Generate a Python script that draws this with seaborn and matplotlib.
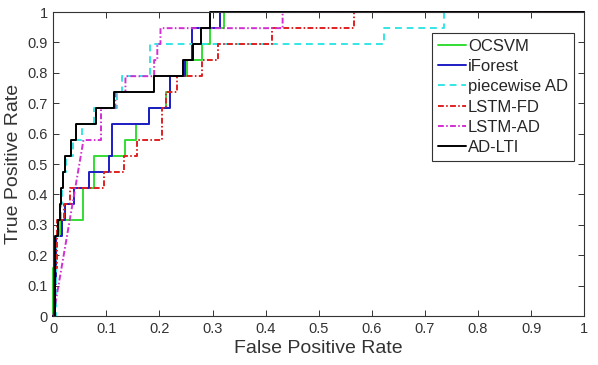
import matplotlib
matplotlib.use("Agg")
import matplotlib.pyplot as plt
import numpy as np
import pandas as pd
import seaborn as sns

# ROC curve vertices (fpr, tpr)
models = ["OCSVM", "iForest", "piecewise AD", "LSTM-FD", "LSTM-AD", "AD-LTI"]

ocsvm_fpr = [0, 0, 0.005, 0.005, 0.012, 0.012, 0.057, 0.057, 0.076, 0.076, 0.136, 0.136,
             0.155, 0.155, 0.18, 0.18, 0.212, 0.212, 0.22, 0.22, 0.252, 0.252, 0.281, 0.281,
             0.296, 0.296, 0.321, 0.321, 1]
ocsvm_tpr = [0, 0.158, 0.158, 0.263, 0.263, 0.316, 0.316, 0.421, 0.421, 0.526, 0.526, 0.579,
             0.579, 0.632, 0.632, 0.684, 0.684, 0.737, 0.737, 0.789, 0.789, 0.842, 0.842, 0.895,
             0.895, 0.947, 0.947, 1, 1]

iforest_fpr = [0, 0.003, 0.003, 0.006, 0.006, 0.017, 0.017, 0.023, 0.023, 0.039, 0.039,
               0.067, 0.067, 0.105, 0.105, 0.11, 0.11, 0.18, 0.18, 0.22, 0.22, 0.249, 0.249,
               0.262, 0.262, 0.315, 0.315, 1]
iforest_tpr = [0, 0, 0.105, 0.105, 0.263, 0.263, 0.316, 0.316, 0.368, 0.368, 0.421,
               0.421, 0.474, 0.474, 0.526, 0.526, 0.632, 0.632, 0.684, 0.684, 0.789, 0.789, 0.842,
               0.842, 0.947, 0.947, 1, 1]

piecewise_fpr = [0, 0.005, 0.005, 0.01, 0.01, 0.014, 0.014, 0.016, 0.016, 0.018, 0.018,
                 0.024, 0.024, 0.038, 0.038, 0.055, 0.055, 0.076, 0.076, 0.12, 0.12, 0.13, 0.13,
                 0.183, 0.183, 0.622, 0.622, 0.735, 0.735, 1]
piecewise_tpr = [0, 0, 0.263, 0.263, 0.316, 0.316, 0.368, 0.368, 0.421, 0.421, 0.474,
                 0.474, 0.526, 0.526, 0.579, 0.579, 0.632, 0.632, 0.684, 0.684, 0.737, 0.737, 0.789,
                 0.789, 0.895, 0.895, 0.947, 0.947, 1, 1]

lstmfd_fpr = [0, 0.004, 0.004, 0.008, 0.008, 0.02, 0.02, 0.031, 0.031, 0.095, 0.095,
              0.133, 0.133, 0.157, 0.157, 0.205, 0.205, 0.212, 0.212, 0.233, 0.233, 0.281, 0.281,
              0.31, 0.31, 0.412, 0.412, 0.566, 0.566, 1]
lstmfd_tpr = [0, 0, 0.158, 0.158, 0.316, 0.316, 0.368, 0.368, 0.421, 0.421, 0.474,
              0.474, 0.526, 0.526, 0.579, 0.579, 0.684, 0.684, 0.737, 0.737, 0.789, 0.789, 0.842,
              0.842, 0.895, 0.895, 0.947, 0.947, 1, 1]

lstmad_fpr = [0, 0.057, 0.09, 0.09, 0.117, 0.117, 0.136, 0.136, 0.19, 0.19, 0.196, 0.196,
              0.202, 0.202, 0.432, 0.432, 1]
lstmad_tpr = [0, 0.579, 0.579, 0.684, 0.684, 0.737, 0.737, 0.789, 0.789, 0.842, 0.842, 0.895,
              0.895, 0.947, 0.947, 1, 1]

adlti_fpr = [0, 0.004, 0.004, 0.009, 0.009, 0.012, 0.012, 0.014, 0.014, 0.019, 0.019,
             0.023, 0.023, 0.033, 0.033, 0.042, 0.042, 0.08, 0.08, 0.114, 0.114, 0.189, 0.189,
             0.245, 0.245, 0.264, 0.264, 0.279, 0.279, 0.296, 0.296, 1]
adlti_tpr = [0, 0, 0.263, 0.263, 0.316, 0.316, 0.368, 0.368, 0.421, 0.421, 0.474,
             0.474, 0.526, 0.526, 0.579, 0.579, 0.632, 0.632, 0.684, 0.684, 0.737, 0.737, 0.789,
             0.789, 0.842, 0.842, 0.895, 0.895, 0.947, 0.947, 1, 1]

curves = {
    "OCSVM": (ocsvm_fpr, ocsvm_tpr),
    "iForest": (iforest_fpr, iforest_tpr),
    "piecewise AD": (piecewise_fpr, piecewise_tpr),
    "LSTM-FD": (lstmfd_fpr, lstmfd_tpr),
    "LSTM-AD": (lstmad_fpr, lstmad_tpr),
    "AD-LTI": (adlti_fpr, adlti_tpr),
}

colors = {
    "OCSVM": "#33dd33",
    "iForest": "#1c1cc4",
    "piecewise AD": "#33e6e6",
    "LSTM-FD": "#e02020",
    "LSTM-AD": "#d22fd2",
    "AD-LTI": "#000000",
}
dashes = {
    "OCSVM": "",
    "iForest": "",
    "piecewise AD": (3.5, 2.5),
    "LSTM-FD": (3, 1.2, 0.8, 1.2),
    "LSTM-AD": (3, 1.2, 0.8, 1.2),
    "AD-LTI": "",
}

rows = []
for name in models:
    fpr, tpr = curves[name]
    for i, (x, y) in enumerate(zip(fpr, tpr)):
        rows.append({"model": name, "fpr": x, "tpr": y, "order": i})
df = pd.DataFrame(rows)

sns.set_style("ticks")
plt.rcParams["font.family"] = ["Liberation Sans", "DejaVu Sans"]

fig = plt.figure(figsize=(5.98, 3.65), dpi=100)
ax = fig.add_axes([0.089, 0.134, 0.888, 0.833])

sns.lineplot(
    data=df, x="fpr", y="tpr", hue="model", style="model",
    hue_order=models, style_order=models, palette=colors, dashes=dashes,
    estimator=None, sort=False, linewidth=1.4, ax=ax,
)
for line in ax.get_lines():
    line.set_clip_on(False)

ax.set_xlim(0, 1)
ax.set_ylim(0, 1)
ticks = np.round(np.arange(0, 1.01, 0.1), 1)
labels = ["0", "0.1", "0.2", "0.3", "0.4", "0.5", "0.6", "0.7", "0.8", "0.9", "1"]
ax.set_xticks(ticks)
ax.set_xticklabels(labels)
ax.set_yticks(ticks)
ax.set_yticklabels(labels)
ax.tick_params(direction="in", top=True, right=True, length=4, width=0.7,
               labelsize=10.5, colors="#333333", pad=4)
for sp in ax.spines.values():
    sp.set_visible(True)
    sp.set_color("#333333")
    sp.set_linewidth(0.8)

ax.set_xlabel("False Positive Rate", fontsize=14, color="#333333", labelpad=3)
ax.set_ylabel("True Positive Rate", fontsize=14, color="#333333", labelpad=4)

handles, labs = ax.get_legend_handles_labels()
leg = ax.legend(handles, labs, loc="upper right", bbox_to_anchor=(0.98, 0.932),
                fontsize=12, frameon=True, fancybox=False, framealpha=1,
                edgecolor="#333333", handlelength=1.7, handletextpad=0.1,
                borderpad=0.35, labelspacing=0.32, borderaxespad=0)
leg.get_frame().set_linewidth(0.8)

fig.savefig("out.png", dpi=100)
